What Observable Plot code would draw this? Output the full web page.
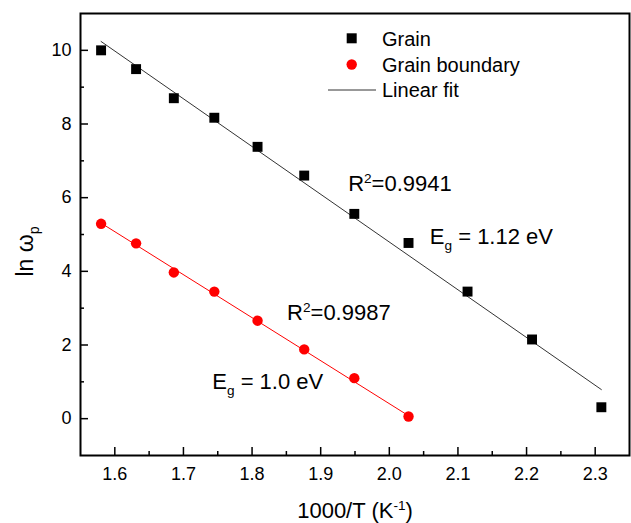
<!DOCTYPE html>
<html>
<head>
<meta charset="utf-8">
<script src="https://cdn.jsdelivr.net/npm/d3@7"></script>
<script src="https://cdn.jsdelivr.net/npm/@observablehq/plot@0.6"></script>
<style>
  html, body { margin: 0; padding: 0; background: #fff; }
  #chart { position: relative; width: 631px; height: 523px; }
</style>
</head>
<body>
<div id="chart"></div>
<script>
// ---- data ----
const invT = [1.580, 1.631, 1.686, 1.745, 1.808, 1.876, 1.949, 2.028, 2.114, 2.208, 2.309];
const lnGrain = [10.0, 9.49, 8.70, 8.17, 7.38, 6.60, 5.56, 4.77, 3.45, 2.15, 0.31];
const lnBoundary = [5.29, 4.76, 3.97, 3.45, 2.66, 1.88, 1.10, 0.06];
const fitGrainX = [1.580, 2.309];
const fitGrainY = [10.24, 0.79];
const fitBoundaryX = [1.580, 2.028];
const fitBoundaryY = [5.31, 0.08];

const xMajor = [1.6, 1.7, 1.8, 1.9, 2.0, 2.1, 2.2, 2.3];
const xMinor = [1.65, 1.75, 1.85, 1.95, 2.05, 2.15, 2.25];
const yMajor = [0, 2, 4, 6, 8, 10];
const yMinor = [1, 3, 5, 7, 9];

const annotText = ["R{^2}=0.9941", "E{_g} = 1.12 eV", "R{^2}=0.9987", "E{_g} = 1.0 eV"];
const annotX = [1.940, 2.059, 1.851, 1.742];
const annotY = [6.17, 4.75, 2.68, 0.81];

const legendLabels = ["Grain", "Grain boundary", "Linear fit"];
const xLabel = "1000/T (K{^-1})";
const yLabel = "ln \u03C9{_p}";

// ---- tables built from the arrays ----
const grain = invT.map((x, i) => ({x, y: lnGrain[i]}));
const boundary = lnBoundary.map((y, i) => ({x: invT[i], y}));
const fitGrain = fitGrainX.map((x, i) => ({x, y: fitGrainY[i]}));
const fitBoundary = fitBoundaryX.map((x, i) => ({x, y: fitBoundaryY[i]}));
const annots = annotText.map((t, i) => ({t, x: annotX[i], y: annotY[i]}));

const FONT = "'Liberation Sans', Arial, Helvetica, sans-serif";
const none = () => "";

const plot = Plot.plot({
  width: 631,
  height: 523,
  marginLeft: 80,
  marginRight: 2,
  marginTop: 13,
  marginBottom: 68,
  x: {domain: [1.55, 2.35]},
  y: {domain: [-1, 11]},
  style: {fontFamily: FONT, background: "#fff", color: "#000", overflow: "visible"},
  marks: [
    // inward ticks (drawn outward, then shifted back inside)
    Plot.axisX(xMinor, {tickSize: 4, dy: -4, strokeWidth: 1.5, tickFormat: none, label: null}),
    Plot.axisX(xMajor, {tickSize: 8, dy: -8, strokeWidth: 1.5, tickFormat: none, label: null}),
    Plot.axisY(yMinor, {tickSize: 4, dx: 4, strokeWidth: 1.5, tickFormat: none, label: null}),
    Plot.axisY(yMajor, {tickSize: 8, dx: 8, strokeWidth: 1.5, tickFormat: none, label: null}),
    // tick labels
    Plot.axisX(xMajor, {tickSize: 0, tickPadding: 12, fontSize: 18, tickFormat: d => d.toFixed(1), label: null}),
    Plot.axisY(yMajor, {tickSize: 0, tickPadding: 9, fontSize: 18, tickFormat: d => String(d), label: null}),
    Plot.frame({stroke: "#000", strokeWidth: 2}),
    Plot.line(fitGrain, {x: "x", y: "y", stroke: "#333", strokeWidth: 1}),
    Plot.line(fitBoundary, {x: "x", y: "y", stroke: "#ff0000", strokeWidth: 1}),
    Plot.dot(grain, {x: "x", y: "y", symbol: "square", r: 5.6, fill: "#000", stroke: null}),
    Plot.dot(boundary, {x: "x", y: "y", symbol: "circle", r: 5.2, fill: "#ff0000", stroke: null}),
    Plot.text(annots, {x: "x", y: "y", text: "t", textAnchor: "start", lineAnchor: "bottom", fontSize: 22, fill: "#000"}),
    Plot.text([xLabel], {text: d => d, frameAnchor: "bottom", dy: 62, lineAnchor: "bottom", fontSize: 22, fill: "#000"}),
    Plot.text([yLabel], {text: d => d, frameAnchor: "left", rotate: -90, dx: -48, dy: 17, textAnchor: "middle", lineAnchor: "bottom", fontSize: 23, fill: "#000"})
  ]
});

document.getElementById("chart").appendChild(plot);

// ---- rich text: sub/superscripts written as {_x} / {^x} ----
const NS = "http://www.w3.org/2000/svg";
function fontSizeOf(el) {
  let n = el;
  while (n && n.getAttribute) {
    const f = n.getAttribute("font-size");
    if (f) return parseFloat(f);
    n = n.parentNode;
  }
  return 16;
}
d3.select(plot).selectAll("text").each(function () {
  const el = this;
  const s = el.textContent;
  if (!/\{[_^][^}]*\}/.test(s)) return;
  const fs = fontSizeOf(el);
  const parts = s.split(/(\{[_^][^}]*\})/).filter(p => p.length);
  while (el.firstChild) el.removeChild(el.firstChild);
  let shift = 0;
  for (const p of parts) {
    const m = p.match(/^\{([_^])(.*)\}$/);
    const t = document.createElementNS(NS, "tspan");
    if (m) {
      const target = m[1] === "_" ? fs * 0.28 : -fs * 0.36;
      t.setAttribute("dy", target - shift);
      t.setAttribute("font-size", fs * 0.62);
      t.textContent = m[2];
      shift = target;
    } else {
      t.setAttribute("dy", -shift);
      t.textContent = p;
      shift = 0;
    }
    el.appendChild(t);
  }
});

// ---- legend (inside the frame, top right) ----
const lg = d3.select(plot).append("g")
  .attr("font-family", FONT).attr("font-size", 20).attr("fill", "#000")
  .attr("text-anchor", "start");
const rowBase = [46, 72, 97];
const textX = 382;
const symX = 351.7;
lg.append("rect").attr("x", symX - 5).attr("y", rowBase[0] - 7.7 - 5).attr("width", 10).attr("height", 10).attr("fill", "#000");
lg.append("circle").attr("cx", symX).attr("cy", rowBase[1] - 7.5).attr("r", 5.2).attr("fill", "#ff0000");
lg.append("line").attr("x1", 328).attr("x2", 376).attr("y1", rowBase[2] - 7).attr("y2", rowBase[2] - 7).attr("stroke", "#333").attr("stroke-width", 1);
legendLabels.forEach((lab, i) => {
  lg.append("text").attr("x", textX).attr("y", rowBase[i]).attr("text-anchor", "start").text(lab);
});
</script>
</body>
</html>
